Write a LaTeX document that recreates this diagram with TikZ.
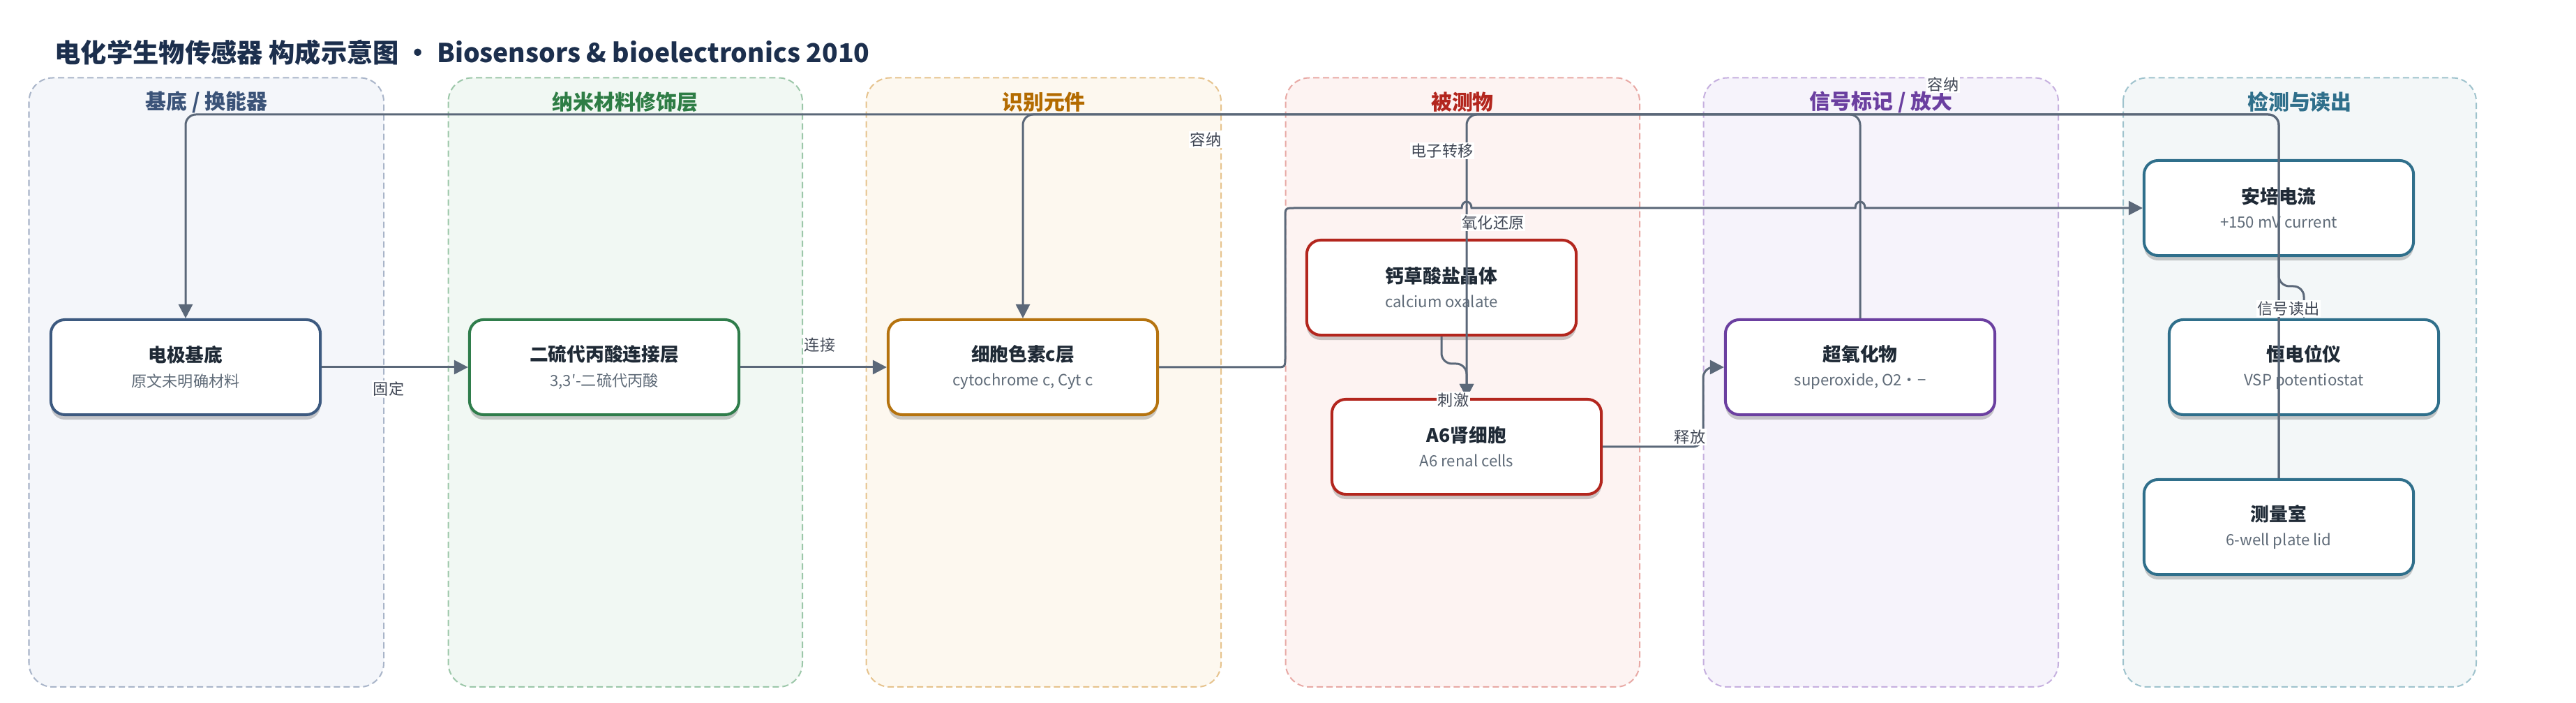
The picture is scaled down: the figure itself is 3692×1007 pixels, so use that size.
\documentclass[tikz,border=0pt]{standalone}
\usepackage{fontspec}
\setmainfont{Noto Sans CJK SC}
\usetikzlibrary{arrows.meta,shadows}
\definecolor{titlec}{HTML}{1C2F4D}
\definecolor{edgec}{HTML}{5B6879}
\definecolor{labelc}{HTML}{3F4654}
\definecolor{ntitlec}{HTML}{1F2A36}
\definecolor{subc}{HTML}{5F6B78}
\definecolor{fA}{HTML}{F4F6FA}\definecolor{bA}{HTML}{A9B5C9}\definecolor{tA}{HTML}{3B5378}\definecolor{nA}{HTML}{3D5A80}
\definecolor{fB}{HTML}{F1F8F3}\definecolor{bB}{HTML}{9CC7A9}\definecolor{tB}{HTML}{2E7D45}\definecolor{nB}{HTML}{2F7D4B}
\definecolor{fC}{HTML}{FDF8EF}\definecolor{bC}{HTML}{E6C38D}\definecolor{tC}{HTML}{B36B00}\definecolor{nC}{HTML}{B5730F}
\definecolor{fD}{HTML}{FDF3F2}\definecolor{bD}{HTML}{E8A9A5}\definecolor{tD}{HTML}{B3261E}\definecolor{nD}{HTML}{B3261E}
\definecolor{fE}{HTML}{F6F3FB}\definecolor{bE}{HTML}{C6B0DF}\definecolor{tE}{HTML}{6B3FA0}\definecolor{nE}{HTML}{6B3FA0}
\definecolor{fF}{HTML}{F3F7F8}\definecolor{bF}{HTML}{9FC3CD}\definecolor{tF}{HTML}{2F6F8B}\definecolor{nF}{HTML}{2F6F8B}
\newcommand{\nodetxt}[2]{{\fontsize{7.6pt}{9pt}\selectfont\bfseries\color{ntitlec}#1}\\[2pt]{\color{subc}#2}}
\tikzset{
  lane/.style n args={2}{draw=#1, fill=#2, dash pattern=on 0.09cm off 0.05cm, line width=0.02cm, rounded corners=0.34cm},
  lanetitle/.style={font=\fontsize{8.5pt}{10pt}\selectfont\bfseries, text=#1, inner sep=0pt},
  box/.style={draw=#1, fill=white, line width=0.04cm, rounded corners=0.2cm, minimum width=3.86cm, minimum height=1.36cm, align=center, inner sep=0pt, font=\fontsize{6.3pt}{8pt}\selectfont, drop shadow={shadow xshift=0cm, shadow yshift=-0.07cm, opacity=0.2, fill=black}},
  conn/.style={draw=edgec, line width=0.03cm, rounded corners=0.15cm},
  arrowed/.style={-{Triangle[length=0.2cm,width=0.2cm]}},
  elabel/.style={fill=white, inner sep=0.6pt, text=labelc, font=\fontsize{6.3pt}{7.5pt}\selectfont}
}
\begin{document}
\begin{tikzpicture}[x=0.01cm,y=-0.01cm]
\useasboundingbox (0,0) rectangle (3692,1007);
\fill[white] (0,0) rectangle (3692,1007);
% title
\node[anchor=west, font=\fontsize{10.6pt}{13pt}\selectfont\bfseries, text=titlec, inner sep=0pt] (title) at (78,75) {电化学生物传感器 构成示意图 ・ Biosensors \& bioelectronics 2010};
% lanes
\path[lane={bA}{fA}] (41.5,111.5) rectangle (550,984);
\path[lane={bB}{fB}] (642.5,111.5) rectangle (1150,984);
\path[lane={bC}{fC}] (1241.5,111.5) rectangle (1750,984);
\path[lane={bD}{fD}] (1842.5,111.5) rectangle (2350,984);
\path[lane={bE}{fE}] (2441.5,111.5) rectangle (2950,984);
\path[lane={bF}{fF}] (3043,111.5) rectangle (3549,984);
\node[lanetitle=tA] (lt1) at (296,146) {基底 / 换能器};
\node[lanetitle=tB] (lt2) at (896,146) {纳米材料修饰层};
\node[lanetitle=tC] (lt3) at (1496,146) {识别元件};
\node[lanetitle=tD] (lt4) at (2096,146) {被测物};
\node[lanetitle=tE] (lt5) at (2696,146) {信号标记 / 放大};
\node[lanetitle=tF] (lt6) at (3296,146) {检测与读出};
% nodes
\node[box=nA] (n1) at (266,526) {\nodetxt{电极基底}{原文未明确材料}};
\node[box=nB] (n2) at (866,526) {\nodetxt{二硫代丙酸连接层}{3,3′-二硫代丙酸}};
\node[box=nC] (n3) at (1466,526) {\nodetxt{细胞色素c层}{cytochrome c, Cyt c}};
\node[box=nD] (n4) at (2066,412) {\nodetxt{钙草酸盐晶体}{calcium oxalate}};
\node[box=nD] (n5) at (2102,640) {\nodetxt{A6肾细胞}{A6 renal cells}};
\node[box=nE] (n6) at (2666,526) {\nodetxt{超氧化物}{superoxide, O2・−}};
\node[box=nF] (n7) at (3266,298) {\nodetxt{安培电流}{+150 mV current}};
\node[box=nF] (n8) at (3302,526) {\nodetxt{恒电位仪}{VSP potentiostat}};
\node[box=nF] (n9) at (3266,755) {\nodetxt{测量室}{6-well plate lid}};
% connectors
\draw[conn,arrowed] (n1.east) -- (n2.west);
\draw[conn,arrowed] (n2.east) -- (n3.west);
\draw[conn,arrowed] (n9.north) -- (3266,164) -- (266,164) -- (n1.north);
\draw[conn,arrowed] (n9.north) -- (3266,164) -- (2102,164) -- (n5.north);
\draw[conn,arrowed] (n6.north) -- (2666,164) -- (1466,164) -- (n3.north);
\draw[conn,arrowed] (n4.south) -- (2066,521) -- (2102,521) -- (n5.north);
\draw[conn,arrowed] (n5.east) -- (2441,640) -- (2441,526) -- (n6.west);
\draw[conn,arrowed] (n7.south) -- (3266,410) -- (3302,410) -- (n8.north);
\draw[draw=edgec, line width=0.03cm, arrowed] (n3.east) -- (1828,526) .. controls (1842,526) .. (1842,512) -- (1842,312) .. controls (1842,298) .. (1856,298)
  -- (2095,298) .. controls (2095,286) and (2109,286) .. (2109,298)
  -- (2659,298) .. controls (2659,286) and (2673,286) .. (2673,298) -- (n7.west);
% labels
\node[elabel] (l1) at (557,557) {固定};
\node[elabel] (l2) at (1175,494) {连接};
\node[elabel] (l3) at (1728,200) {容纳};
\node[elabel] (l4) at (2785,121) {容纳};
\node[elabel] (l5) at (2067,216) {电子转移};
\node[elabel] (l6) at (2140,319) {氧化还原};
\node[elabel] (l7) at (2083,573) {刺激};
\node[elabel] (l8) at (2422,626) {释放};
\node[elabel] (l9) at (3280,442) {信号读出};
\end{tikzpicture}
\end{document}
